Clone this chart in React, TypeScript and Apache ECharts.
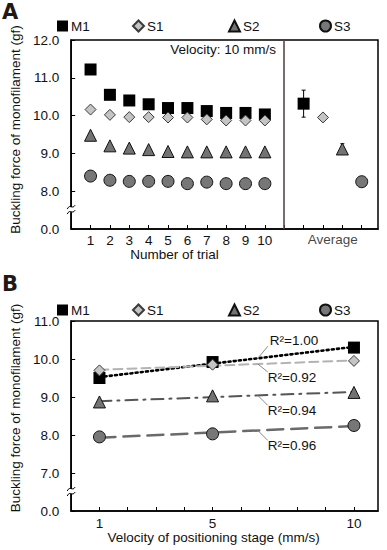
import { useEffect, useRef } from 'react';
import * as echarts from 'echarts';

const seriesNames = ['M1', 'S1', 'S2', 'S3'];
const trialNumbers = [1, 2, 3, 4, 5, 6, 7, 8, 9, 10];
const trialM1 = [11.22, 10.55, 10.4, 10.3, 10.2, 10.2, 10.12, 10.07, 10.07, 10.03];
const trialS1 = [10.16, 10.02, 9.96, 9.96, 9.95, 9.95, 9.9, 9.87, 9.87, 9.87];
const trialS2 = [9.48, 9.2, 9.14, 9.1, 9.05, 9.04, 9.04, 9.04, 9.04, 9.04];
const trialS3 = [8.4, 8.29, 8.26, 8.26, 8.26, 8.2, 8.24, 8.2, 8.2, 8.2];
const averagePositions = [12, 13, 14, 15];
const dividerPosition = 11;
const averageLabelPosition = 13.5;

const velocities = [1, 5, 10];
const velM1 = [9.5, 9.92, 10.3];
const velS1 = [9.7, 9.85, 9.95];
const velS2 = [8.87, 9.03, 9.12];
const velS3 = [7.95, 8.03, 8.25];
const r2Labels = ['R²=1.00', 'R²=0.92', 'R²=0.94', 'R²=0.96'];
const r2AnchorX = 6.6;

const yLabelsA = [7, 8, 9, 10, 11, 12];
const yLabelsB = [6, 7, 8, 9, 10, 11];
const xLabelsB = [1, 5, 10];

const FONT = "'Liberation Sans', Arial, sans-serif";

const markerStyles = [
  { symbol: 'rect', size: 12, color: '#000000', border: '#000000' },
  { symbol: 'diamond', size: 11, color: '#c4c4c4', border: '#3a3a3a' },
  { symbol: 'triangle', size: 12, color: '#737373', border: '#111111' },
  { symbol: 'circle', size: 12, color: '#777777', border: '#111111' },
];
const trendStyles = [
  { color: '#000000', type: [2, 3.2], width: 2.6 },
  { color: '#b3b3b3', type: [9, 5], width: 2 },
  { color: '#555555', type: [12, 6, 2, 6], width: 2 },
  { color: '#6a6a6a', type: [16, 8], width: 2.5 },
];
// pixel offsets of leader end and text start from anchor on the fit line
const r2Offsets = [
  { lx: 10, ly: -12, tx: 12, ty: -18 },
  { lx: 10, ly: 8, tx: 10, ty: 13 },
  { lx: 10, ly: 10, tx: 10, ty: 15 },
  { lx: 10, ly: 10, tx: 10, ty: 15 },
];

function mean(a: number[]) {
  return a.reduce((s, v) => s + v, 0) / a.length;
}
function sd(a: number[]) {
  const m = mean(a);
  return Math.sqrt(a.reduce((s, v) => s + (v - m) * (v - m), 0) / (a.length - 1));
}
function linFit(xs: number[], ys: number[]) {
  const mx = mean(xs);
  const my = mean(ys);
  let sxy = 0;
  let sxx = 0;
  xs.forEach((x, i) => {
    sxy += (x - mx) * (ys[i] - my);
    sxx += (x - mx) * (x - mx);
  });
  const b = sxy / sxx;
  const a = my - b * mx;
  return (x: number) => a + b * x;
}

export default function App() {
  const ref = useRef<HTMLDivElement>(null);
  useEffect(() => {
    document.body.style.margin = '0';
    if (!ref.current) return;
    const chart = echarts.init(ref.current, undefined, { renderer: 'svg' });
    const trials = [trialM1, trialS1, trialS2, trialS3];
    const vels = [velM1, velS1, velS2, velS3];
    const fits = vels.map((v) => linFit(velocities, v));

    const series: any[] = [];
    // error bars (under markers)
    series.push({
      type: 'custom',
      xAxisIndex: 0,
      yAxisIndex: 0,
      z: 1,
      silent: true,
      data: trials.map((t, i) => [averagePositions[i], mean(t), sd(t)]),
      encode: { x: 0, y: 1 },
      renderItem: (params: any, api: any) => {
        const x = api.value(0);
        const m = api.value(1);
        const s = api.value(2);
        const top = api.coord([x, m + s]);
        const bot = api.coord([x, m - s]);
        const st = { stroke: '#000', lineWidth: 1 };
        return {
          type: 'group',
          children: [
            { type: 'line', shape: { x1: top[0], y1: top[1], x2: bot[0], y2: bot[1] }, style: st },
            { type: 'line', shape: { x1: top[0] - 2, y1: top[1], x2: top[0] + 2, y2: top[1] }, style: st },
            { type: 'line', shape: { x1: bot[0] - 2, y1: bot[1], x2: bot[0] + 2, y2: bot[1] }, style: st },
          ],
        };
      },
      markLine: {
        silent: true,
        symbol: 'none',
        label: { show: false },
        lineStyle: { color: '#5a4848', width: 1.6, type: 'solid' },
        data: [{ xAxis: dividerPosition }],
      },
    });
    seriesNames.forEach((name, i) => {
      const ms = markerStyles[i];
      series.push({
        type: 'scatter',
        name,
        xAxisIndex: 0,
        yAxisIndex: 0,
        z: 3,
        symbol: ms.symbol,
        symbolSize: ms.size,
        itemStyle: { color: ms.color, borderColor: ms.border, borderWidth: i === 0 ? 0 : 1, opacity: 1 },
        data: trialNumbers
          .map((t, j) => [t, trials[i][j]])
          .concat([[averagePositions[i], mean(trials[i])]]),
      });
    });
    // "Average" label
    series.push({
      type: 'scatter',
      xAxisIndex: 0,
      yAxisIndex: 0,
      symbolSize: 0,
      silent: true,
      data: [[averageLabelPosition, yLabelsA[0]]],
      label: {
        show: true,
        position: 'bottom',
        distance: 3,
        formatter: 'Average',
        fontSize: 13.5,
        fontFamily: FONT,
        color: '#111',
      },
    });
    // panel B
    seriesNames.forEach((name, i) => {
      const ts = trendStyles[i];
      series.push({
        type: 'line',
        xAxisIndex: 1,
        yAxisIndex: 1,
        z: 2,
        silent: true,
        symbol: 'none',
        lineStyle: { color: ts.color, type: ts.type, width: ts.width, cap: 'round' },
        data: [velocities[0], velocities[velocities.length - 1]].map((x) => [x, fits[i](x)]),
      });
    });
    seriesNames.forEach((name, i) => {
      const ms = markerStyles[i];
      series.push({
        type: 'scatter',
        name,
        xAxisIndex: 1,
        yAxisIndex: 1,
        z: 3,
        symbol: ms.symbol,
        symbolSize: ms.size,
        itemStyle: { color: ms.color, borderColor: ms.border, borderWidth: i === 0 ? 0 : 1, opacity: 1 },
        data: velocities.map((x, j) => [x, vels[i][j]]),
      });
    });

    const legendLefts = [57, 132, 228, 319];
    const legendIcons = ['rect', 'diamond', 'triangle', 'circle'];
    const legends: any[] = [];
    [19, 303].forEach((top) => {
      seriesNames.forEach((name, i) => {
        legends.push({
          left: legendLefts[i],
          top,
          padding: 0,
          itemWidth: 11,
          itemHeight: 11,
          itemGap: 0,
          selectedMode: false,
          data: [{ name, icon: legendIcons[i] }],
          textStyle: { fontSize: 13.5, fontFamily: FONT, color: '#111', padding: [0, 0, 0, -2] },
        });
      });
    });

    const axisLine = { show: true, lineStyle: { color: '#000', width: 1.5 } };
    const axisTick = { show: true, inside: true, length: 4, lineStyle: { color: '#000', width: 1 } };
    const labelStyle = { fontSize: 13.5, fontFamily: FONT, color: '#111' };
    const yName = 'Buckling force of monofilament (gf)';

    chart.setOption({
      animation: false,
      textStyle: { fontFamily: FONT },
      legend: legends,
      grid: [
        { left: 57, right: 9, top: 40, height: 189, show: true, borderColor: '#000', borderWidth: 1.5 },
        { left: 58, right: 9, top: 321, height: 190, show: true, borderColor: '#000', borderWidth: 1.5 },
      ],
      xAxis: [
        {
          type: 'value',
          gridIndex: 0,
          min: 0,
          max: 15.84,
          interval: 1,
          axisLine,
          axisTick,
          splitLine: { show: false },
          axisLabel: {
            ...labelStyle,
            margin: 4,
            showMaxLabel: false,
            formatter: (v: number) => (trialNumbers.includes(v) ? String(v) : ''),
          },
          name: 'Number of trial',
          nameLocation: 'middle',
          nameGap: 18,
          nameTextStyle: { ...labelStyle, padding: [0, 100, 0, 0] },
        },
        {
          type: 'value',
          gridIndex: 1,
          min: 0,
          max: 10.85,
          interval: 1,
          axisLine,
          axisTick,
          splitLine: { show: false },
          axisLabel: {
            ...labelStyle,
            margin: 5,
            showMaxLabel: false,
            formatter: (v: number) => (xLabelsB.includes(v) ? String(v) : ''),
          },
          name: 'Velocity of positioning stage (mm/s)',
          nameLocation: 'middle',
          nameGap: 19,
          nameTextStyle: { ...labelStyle, padding: [0, 22, 0, 0] },
        },
      ],
      yAxis: [
        {
          type: 'value',
          gridIndex: 0,
          min: yLabelsA[0],
          max: yLabelsA[yLabelsA.length - 1],
          interval: 1,
          axisLine,
          axisTick,
          splitLine: { show: false },
          axisLabel: {
            ...labelStyle,
            margin: 12,
            formatter: (v: number) => (v === yLabelsA[0] ? '0.0' : v.toFixed(1)),
          },
          name: yName,
          nameLocation: 'middle',
          nameRotate: 90,
          nameGap: 39,
          nameTextStyle: { ...labelStyle, padding: [0, 0, 0, 10] },
        },
        {
          type: 'value',
          gridIndex: 1,
          min: yLabelsB[0],
          max: yLabelsB[yLabelsB.length - 1],
          interval: 1,
          axisLine,
          axisTick,
          splitLine: { show: false },
          axisLabel: {
            ...labelStyle,
            margin: 12,
            formatter: (v: number) => (v === yLabelsB[0] ? '0.0' : v.toFixed(1)),
          },
          name: yName,
          nameLocation: 'middle',
          nameRotate: 90,
          nameGap: 39,
          nameTextStyle: { ...labelStyle, padding: [0, 0, 0, 16] },
        },
      ],
      series,
    });

    // annotations
    const graphics: any[] = [];
    const breakMark = (p: number[]) => {
      const [x, y] = p;
      graphics.push({
        type: 'rect',
        z: 100,
        shape: { x: x - 3, y: y - 3, width: 6, height: 5 },
        style: { fill: '#fff' },
      });
      [-3, 2].forEach((dy) => {
        graphics.push({
          type: 'bezierCurve',
          z: 101,
          shape: {
            x1: x - 4, y1: y + dy + 2,
            cpx1: x - 1, cpy1: y + dy - 4,
            cpx2: x + 1, cpy2: y + dy + 3,
            x2: x + 4, y2: y + dy - 2,
          },
          style: { stroke: '#000', lineWidth: 1, fill: 'none' },
        });
      });
    };
    breakMark(chart.convertToPixel({ xAxisIndex: 0, yAxisIndex: 0 }, [0, yLabelsA[0] + 0.5]) as number[]);
    breakMark(chart.convertToPixel({ xAxisIndex: 1, yAxisIndex: 1 }, [0, yLabelsB[0] + 0.5]) as number[]);

    fits.forEach((f, i) => {
      const p = chart.convertToPixel({ xAxisIndex: 1, yAxisIndex: 1 }, [r2AnchorX, f(r2AnchorX)]) as number[];
      const o = r2Offsets[i];
      graphics.push({
        type: 'line',
        z: 50,
        shape: { x1: p[0], y1: p[1], x2: p[0] + o.lx, y2: p[1] + o.ly },
        style: { stroke: '#8a8a8a', lineWidth: 1 },
      });
      graphics.push({
        type: 'text',
        z: 50,
        x: p[0] + o.tx,
        y: p[1] + o.ty,
        style: {
          text: r2Labels[i],
          fontSize: 13.5,
          fontFamily: FONT,
          fill: '#111',
          align: 'left',
          verticalAlign: 'middle',
        },
      });
    });

    graphics.push({
      type: 'text',
      right: 111,
      top: 42,
      style: { text: 'Velocity: 10 mm/s', fontSize: 13.5, fontFamily: FONT, fill: '#111' },
    });
    graphics.push({
      type: 'text',
      left: 2,
      top: 1,
      style: { text: 'A', fontSize: 21, fontWeight: 900, fontFamily: 'DejaVu Sans', fill: '#231815' },
    });
    graphics.push({
      type: 'text',
      left: 2,
      top: 273,
      style: { text: 'B', fontSize: 21, fontWeight: 900, fontFamily: 'DejaVu Sans', fill: '#231815' },
    });
    chart.setOption({ graphic: graphics });

    return () => chart.dispose();
  }, []);
  return <div ref={ref} style={{ width: 387, height: 550 }} />;
}
